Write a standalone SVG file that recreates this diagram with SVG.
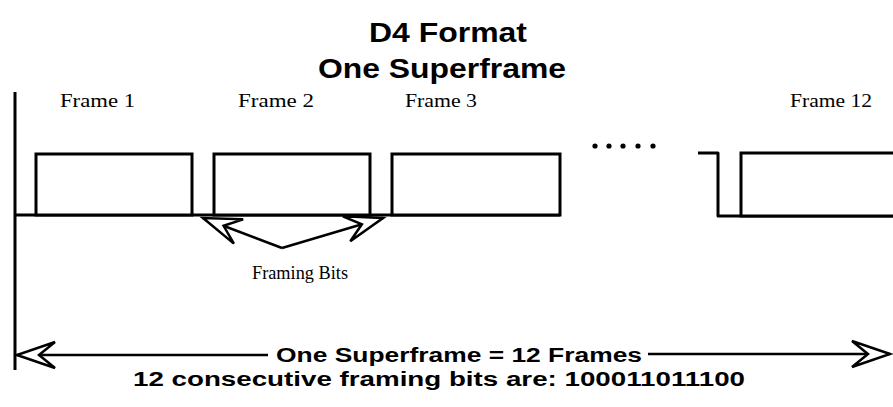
<svg xmlns="http://www.w3.org/2000/svg" width="893" height="407" viewBox="0 0 893 407">
  <style>
    .bg { fill: #ffffff; }
    .wave { fill: none; stroke: #000; stroke-width: 3; stroke-linejoin: round; }
    .frame { fill: #ffffff; stroke: #000; stroke-width: 3; }
    .conn { fill: none; stroke: #000; stroke-width: 2.5; }
    .title { font-family: "Liberation Sans", Arial, sans-serif; font-weight: bold; font-size: 27px; fill: #000; }
    .label { font-family: "Liberation Serif", "Times New Roman", serif; font-size: 19px; fill: #000; }
    .foot { font-family: "Liberation Sans", Arial, sans-serif; font-weight: bold; font-size: 20px; fill: #000; }
  </style>
  <defs>
    <marker id="head" markerUnits="userSpaceOnUse" markerWidth="44" markerHeight="32" viewBox="-40 -16 44 32" refX="0" refY="0" orient="auto">
      <path d="M0,0 L-38,-13 L-22,0 L-38,13 Z" fill="#fff" stroke="#000" stroke-width="2.5" stroke-linejoin="miter"/>
    </marker>
  </defs>
  <rect class="bg" x="0" y="0" width="893" height="407"/>

  <g id="title">
    <text class="title" x="448" y="42" text-anchor="middle" textLength="158" lengthAdjust="spacingAndGlyphs">D4 Format</text>
    <text class="title" x="442" y="78" text-anchor="middle" textLength="248" lengthAdjust="spacingAndGlyphs">One Superframe</text>
  </g>

  <g id="axis">
    <line class="wave" x1="15" y1="92" x2="15" y2="370"/>
    <line class="wave" x1="15" y1="215" x2="560" y2="215"/>
  </g>

  <g id="frame1">
    <rect class="frame" x="36" y="154" width="156" height="61"/>
    <text class="label" x="60" y="107" textLength="75" lengthAdjust="spacingAndGlyphs">Frame 1</text>
  </g>
  <g id="frame2">
    <rect class="frame" x="214" y="154" width="156" height="61"/>
    <text class="label" x="238" y="107" textLength="76" lengthAdjust="spacingAndGlyphs">Frame 2</text>
  </g>
  <g id="frame3">
    <rect class="frame" x="392" y="154" width="168" height="61"/>
    <text class="label" x="405" y="107" textLength="72" lengthAdjust="spacingAndGlyphs">Frame 3</text>
  </g>
  <g id="ellipsis">
    <circle cx="595" cy="146" r="2.6"/>
    <circle cx="609" cy="146" r="2.6"/>
    <circle cx="623" cy="146" r="2.6"/>
    <circle cx="638" cy="146" r="2.6"/>
    <circle cx="653" cy="146" r="2.6"/>
  </g>
  <g id="frame12">
    <path class="wave" d="M698,153 H718 V216 H893"/>
    <rect class="frame" x="741" y="153" width="160" height="63"/>
    <text class="label" x="790" y="107" textLength="82" lengthAdjust="spacingAndGlyphs">Frame 12</text>
  </g>

  <g id="framing-bits">
    <text class="label" x="252" y="279" font-size="20" textLength="96" lengthAdjust="spacingAndGlyphs">Framing Bits</text>
  </g>

  <g id="connectors">
    <polyline class="conn" points="282,248 203,218" marker-end="url(#head)"/>
    <polyline class="conn" points="282,248 383,218" marker-end="url(#head)"/>
    <line class="conn" x1="268" y1="355" x2="17" y2="355" marker-end="url(#head)"/>
    <line class="conn" x1="648" y1="354" x2="890" y2="354" marker-end="url(#head)"/>
  </g>

  <g id="footer">
    <text class="foot" x="276" y="362" textLength="366" lengthAdjust="spacingAndGlyphs">One Superframe = 12 Frames</text>
    <text class="foot" x="133" y="386" textLength="612" lengthAdjust="spacingAndGlyphs">12 consecutive framing bits are: 100011011100</text>
  </g>
</svg>
